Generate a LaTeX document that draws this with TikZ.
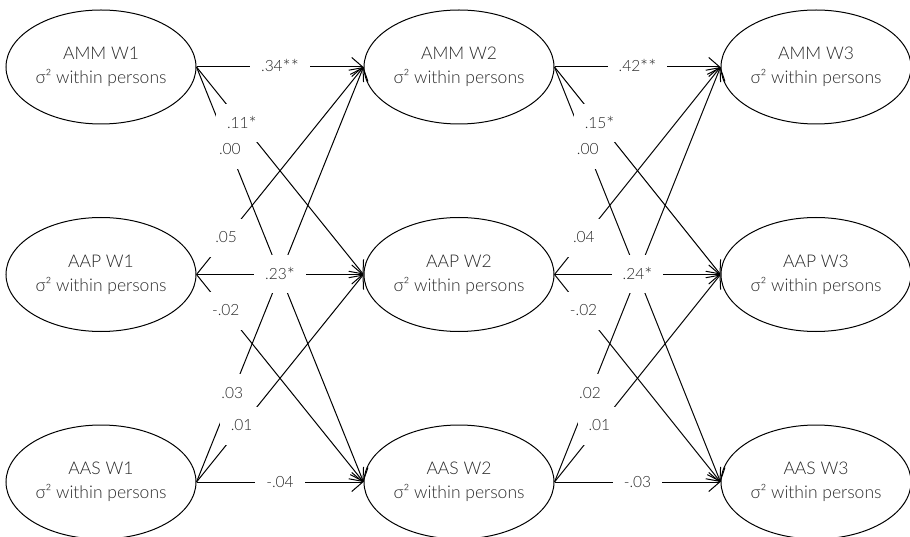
\documentclass[tikz,border=0pt]{standalone}
\usepackage{fontspec}
\setmainfont{Lato Light}
\usetikzlibrary{shapes.geometric,arrows.meta}
\definecolor{txt}{RGB}{40,40,40}
\newcommand\myast{\raisebox{-1.8pt}{\fontsize{19}{18}\selectfont*}}
\begin{document}
\begin{tikzpicture}[x=1pt,y=-1pt,
  var/.style={ellipse, draw, line width=1pt, minimum width=190pt, minimum height=114pt, inner sep=0pt, align=center, text=txt, font=\fontsize{17.5}{24}\selectfont},
  conn/.style={line width=1pt, -{Straight Barb[length=11pt,width=19pt]}},
  lbl/.style={fill=white, text=txt, font=\fontsize{15.5}{18}\selectfont, inner xsep=11pt, inner ysep=14pt, text height=10pt, text depth=0pt}]
\useasboundingbox (0,0) rectangle (910,537);
% nodes
\node[var] (m1) at (101,67) {AMM W1\\σ² within persons};
\node[var] (p1) at (101,274.5) {AAP W1\\σ² within persons};
\node[var] (s1) at (101,482) {AAS W1\\σ² within persons};
\node[var] (m2) at (459,67) {AMM W2\\σ² within persons};
\node[var] (p2) at (459,274.5) {AAP W2\\σ² within persons};
\node[var] (s2) at (459,482) {AAS W2\\σ² within persons};
\node[var] (m3) at (816,67) {AMM W3\\σ² within persons};
\node[var] (p3) at (816,274.5) {AAP W3\\σ² within persons};
\node[var] (s3) at (816,482) {AAS W3\\σ² within persons};
% connectors
\foreach \a/\b in {1/2,2/3}{
  \draw[conn] (m\a.east) -- (m\b.west);
  \draw[conn] (m\a.east) -- (p\b.west);
  \draw[conn] (m\a.east) -- (s\b.west);
  \draw[conn] (p\a.east) -- (m\b.west);
  \draw[conn] (p\a.east) -- (p\b.west);
  \draw[conn] (p\a.east) -- (s\b.west);
  \draw[conn] (s\a.east) -- (m\b.west);
  \draw[conn] (s\a.east) -- (p\b.west);
  \draw[conn] (s\a.east) -- (s\b.west);
}
% labels W1 -> W2
\path (m1.east) -- (m2.west) node[lbl,pos=.5] (l1) {.34\myast\myast};
\path (m1.east) -- (p2.west) node[lbl,pos=.272] (l2) {.11\myast};
\path (m1.east) -- (s2.west) node[lbl,pos=.2] (l3) {.00};
\path (p1.east) -- (m2.west) node[lbl,pos=.177] (l4) {.05};
\path (p1.east) -- (p2.west) node[lbl,pos=.5] (l5) {.23\myast};
\path (p1.east) -- (s2.west) node[lbl,pos=.175] (l6) {-.02};
\path (s1.east) -- (m2.west) node[lbl,pos=.214] (l7) {.03};
\path (s1.east) -- (p2.west) node[lbl,pos=.27] (l8) {.01};
\path (s1.east) -- (s2.west) node[lbl,pos=.5] (l9) {-.04};
% labels W2 -> W3
\path (m2.east) -- (m3.west) node[lbl,pos=.5] (k1) {.42\myast\myast};
\path (m2.east) -- (p3.west) node[lbl,pos=.272] (k2) {.15\myast};
\path (m2.east) -- (s3.west) node[lbl,pos=.2] (k3) {.00};
\path (p2.east) -- (m3.west) node[lbl,pos=.177] (k4) {.04};
\path (p2.east) -- (p3.west) node[lbl,pos=.5] (k5) {.24\myast};
\path (p2.east) -- (s3.west) node[lbl,pos=.175] (k6) {-.02};
\path (s2.east) -- (m3.west) node[lbl,pos=.214] (k7) {.02};
\path (s2.east) -- (p3.west) node[lbl,pos=.27] (k8) {.01};
\path (s2.east) -- (s3.west) node[lbl,pos=.5] (k9) {-.03};
\end{tikzpicture}
\end{document}
